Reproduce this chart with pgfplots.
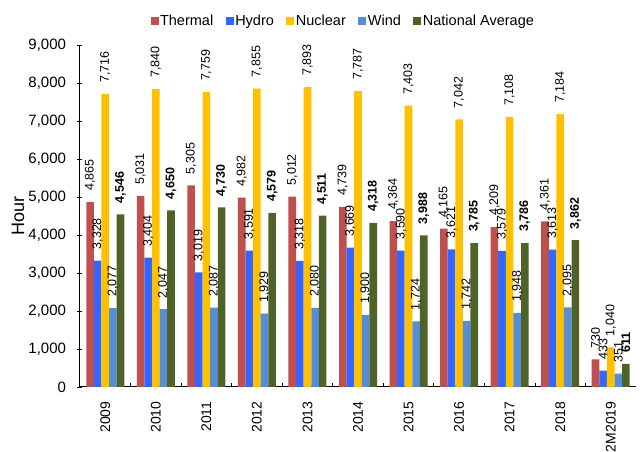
\documentclass[border=0pt]{standalone}
\usepackage{pgfplots}
\pgfplotsset{compat=1.18}
\usepackage{pgfplotstable}
\usepackage{fontspec}
\setmainfont{Liberation Sans}
\definecolor{cTh}{HTML}{C0504D}
\definecolor{cHy}{HTML}{3366FF}
\definecolor{cNu}{HTML}{FFC000}
\definecolor{cWi}{HTML}{558ED5}
\definecolor{cNa}{HTML}{4F6228}
\pgfplotstableread{
x th hy nu wi na
0 4865 3328 7716 2077 4546
1 5031 3404 7840 2047 4650
2 5305 3019 7759 2087 4730
3 4982 3591 7855 1929 4579
4 5012 3318 7893 2080 4511
5 4739 3669 7787 1900 4318
6 4364 3590 7403 1724 3988
7 4165 3621 7042 1742 3785
8 4209 3579 7108 1948 3786
9 4361 3613 7184 2095 3862
10 730 433 1040 351 611
}\data
\pgfplotsset{sq/.style={legend image code/.code={\fill[##1] (0pt,-4pt) rectangle (8pt,4pt);}}}
\begin{document}
\begin{tikzpicture}
\path[use as bounding box] (0,0) rectangle (640pt,452pt);
\begin{axis}[
  at={(80pt,65pt)}, anchor=south west,
  width=556pt, height=342pt, scale only axis,
  xmin=-0.5, xmax=10.5, ymin=0, ymax=9000,
  axis x line*=bottom, axis y line*=left,
  axis line style={line width=1pt},
  ybar=0pt, bar width=7.6pt,
  xtick={0,...,10},
  xticklabels={2009,2010,2011,2012,2013,2014,2015,2016,2017,2018,2M2019},
  x tick label style={rotate=90, anchor=east, font=\fontsize{14}{16}\selectfont, xshift=-11pt},
  major x tick style={draw=none},
  minor xtick={0.5,1.5,...,9.5},
  minor tick length=4pt,
  xtick align=inside,
  ytick={0,1000,...,9000},
  ytick align=center,
  major tick length=5pt,
  y tick label style={font=\fontsize{15}{17}\selectfont, xshift=-8pt},
  tick style={black, line width=0.8pt},
  /pgf/number format/assume math mode=true,
  /pgf/number format/1000 sep={,},
  /pgf/number format/fixed,
  /pgf/number format/precision=0,
  ylabel={Hour},
  every axis y label/.style={at={(axis description cs:-0.1115,0.5)}, rotate=90, anchor=center, font=\fontsize{18}{20}\selectfont},
  nodes near coords,
  every node near coord/.append style={rotate=90, anchor=west, font=\fontsize{12.5}{14}\selectfont, inner xsep=11pt, inner ysep=1pt, black},
  legend style={at={(0.473,1.070)}, anchor=center, legend columns=-1, draw=none, fill=none,
    font=\fontsize{14.5}{16}\selectfont,
    /tikz/every even column/.append style={column sep=11pt},
    nodes={inner sep=1.5pt}},
]
\addplot[fill=cTh, draw=none, sq] table[x=x, y=th] {\data};
\addplot[fill=cHy, draw=none, sq] table[x=x, y=hy] {\data};
\addplot[fill=cNu, draw=none, sq] table[x=x, y=nu] {\data};
\addplot[fill=cWi, draw=none, sq] table[x=x, y=wi] {\data};
\addplot[fill=cNa, draw=none, sq, nodes near coords style={font=\bfseries\fontsize{12.5}{14}\selectfont}] table[x=x, y=na] {\data};
\legend{Thermal, Hydro, Nuclear, Wind, National Average}
\end{axis}
\end{tikzpicture}
\end{document}
